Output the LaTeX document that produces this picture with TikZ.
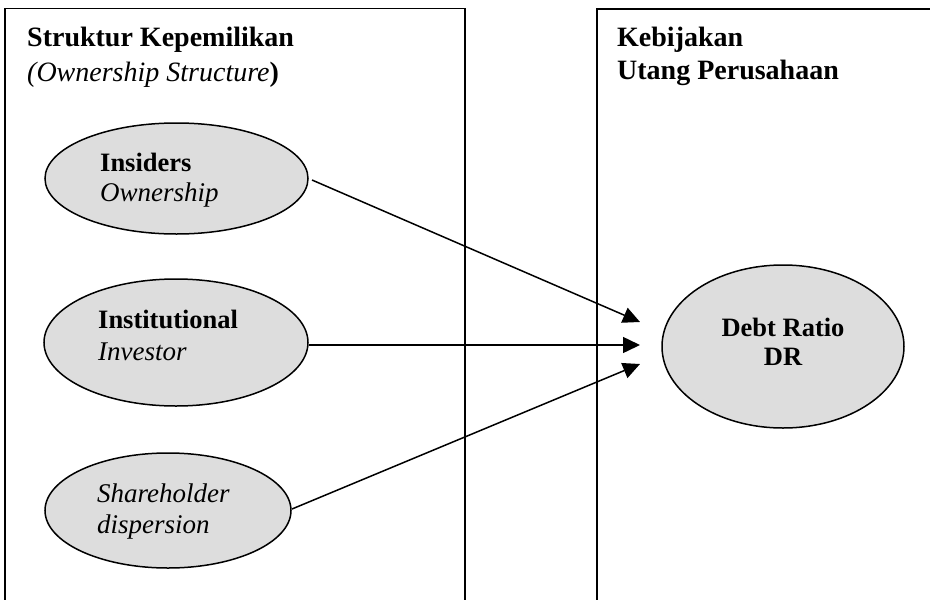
\documentclass[tikz,border=0pt]{standalone}
\usepackage{fontspec}
\setmainfont{Liberation Serif}
\usetikzlibrary{shapes.geometric,arrows.meta}
\definecolor{ellfill}{RGB}{221,221,221}
\tikzset{
  frame/.style={line width=1.6pt, draw=black},
  oval/.style={ellipse, draw=black, line width=1.5pt, fill=ellfill, inner sep=0pt},
  lbl/.style={anchor=base west, inner sep=0pt, font=\fontsize{26.5}{31}\selectfont\bfseries},
  ilbl/.style={anchor=base west, inner sep=0pt, font=\fontsize{27}{31}\selectfont\itshape},
  clbl/.style={anchor=base, inner sep=0pt, font=\fontsize{26.5}{31}\selectfont\bfseries},
  link/.style={line width=1.5pt, -{Triangle[length=17pt,width=16pt]}}
}
\begin{document}
\begin{tikzpicture}[x=1pt,y=-1pt]
\useasboundingbox (0,0) rectangle (930,600);
% frames
\draw[frame] (5,600) -- (5,8.5) -- (465,8.5) -- (465,600);
\draw[frame] (597,600) -- (597,9) -- (931,9);
% titles
\node[lbl] (tl1) at (27,46) {\fontsize{28}{31}\selectfont Struktur Kepemilikan};
\node[lbl] (tl2) at (27,81) {\fontsize{28}{31}\selectfont\textit{\mdseries(Ownership Structure})};
\node[lbl] (tr1) at (617,46) {\fontsize{28}{31}\selectfont Kebijakan};
\node[lbl] (tr2) at (617,79) {\fontsize{28}{31}\selectfont Utang Perusahaan};
% ellipses
\node[oval, minimum width=263pt, minimum height=111pt] (ins) at (176.5,178.5) {};
\node[oval, minimum width=264pt, minimum height=127pt] (inst) at (176,342.5) {};
\node[oval, minimum width=246pt, minimum height=115pt] (sh) at (168,510.5) {};
\node[oval, minimum width=242pt, minimum height=163pt] (dr) at (783,346.5) {};
% ellipse texts
\node[lbl] (insA) at (100,171) {Insiders};
\node[ilbl] (insB) at (100,201) {Ownership};
\node[lbl] (instA) at (98,328) {Institutional};
\node[ilbl] (instB) at (98,360) {Investor};
\node[ilbl] (shA) at (97,502) {Shareholder};
\node[ilbl] (shB) at (97,533) {dispersion};
\node[clbl] (drA) at (783,336) {Debt Ratio};
\node[clbl] (drB) at (783,365) {DR};
% arrow ends
\coordinate (p1) at (640,322);
\coordinate (p2) at (640,345);
\coordinate (p3) at (640,364);
\coordinate (s1) at (312,180);
\coordinate (s2) at (309,345);
\coordinate (s3) at (292,509);
\draw[link] (s1) -- (p1);
\draw[link] (s2) -- (p2);
\draw[link] (s3) -- (p3);
\end{tikzpicture}
\end{document}
